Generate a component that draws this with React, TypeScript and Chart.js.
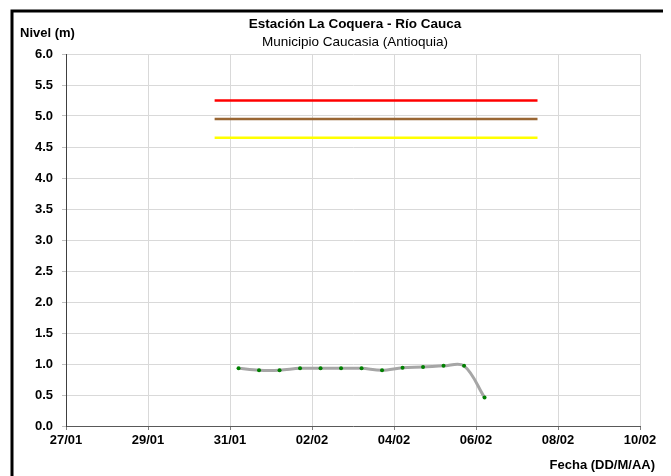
import React, { useEffect, useRef } from "react";
import { Chart, registerables } from "chart.js";

Chart.register(...registerables);

// ---- Data ----
const fechas = [
  "31/01 05:00", "31/01 17:00", "01/02 05:00", "01/02 17:00", "02/02 05:00",
  "02/02 17:00", "03/02 05:00", "03/02 17:00", "04/02 05:00", "04/02 17:00",
  "05/02 05:00", "05/02 17:00", "06/02 05:00",
];
const niveles = [0.93, 0.9, 0.9, 0.93, 0.93, 0.93, 0.93, 0.9, 0.94, 0.95, 0.97, 0.97, 0.46];

const umbralFechas = ["30/01 15:00", "07/02 12:00"];
const umbralRojo = [5.25, 5.25];
const umbralNaranja = [4.95, 4.95];
const umbralAmarillo = [4.65, 4.65];

const xTickLabels = ["27/01", "29/01", "31/01", "02/02", "04/02", "06/02", "08/02", "10/02"];
const fechaInicio = "27/01 00:00";
const fechaFin = "10/02 00:00";

const titulo = "Estación La Coquera - Río Cauca";
const subtitulo = "Municipio Caucasia (Antioquia)";
const tituloY = "Nivel (m)";
const tituloX = "Fecha (DD/M/AA)";

const FONT = "'Liberation Sans', Arial, sans-serif";

function toDays(s: string): number {
  const [d, t] = s.split(" ");
  const [dd, mm] = d.split("/").map(Number);
  const [hh, mi] = t.split(":").map(Number);
  return Date.UTC(2020, mm - 1, dd, hh, mi) / 86400000;
}
const base = toDays(fechaInicio);
const xOf = (s: string) => toDays(s) - base;

const decorPlugin = {
  id: "decor",
  afterDraw(chart: any) {
    const { ctx, chartArea } = chart;
    const L = chartArea.left;
    const T = chartArea.top;
    const R = chartArea.right;
    const B = chartArea.bottom;
    ctx.save();
    // outer frame
    ctx.strokeStyle = "#000000";
    ctx.lineWidth = 3;
    ctx.strokeRect(L - 54, T - 43, R - L + 79, 520);
    // titles
    ctx.fillStyle = "#000000";
    ctx.textAlign = "center";
    ctx.textBaseline = "alphabetic";
    ctx.font = `bold 13.5px ${FONT}`;
    const cx = L + 289;
    ctx.fillText(titulo, cx, T - 26);
    ctx.font = `13.5px ${FONT}`;
    ctx.fillText(subtitulo, cx, T - 8);
    // axis titles
    ctx.font = `bold 13px ${FONT}`;
    ctx.textAlign = "left";
    ctx.fillText(tituloY, L - 46, T - 17);
    ctx.textAlign = "right";
    ctx.fillText(tituloX, R + 15, B + 43);
    ctx.restore();
  },
};

export default function App() {
  const ref = useRef<HTMLCanvasElement | null>(null);

  useEffect(() => {
    if (!ref.current) return;
    const lineData = (vals: number[], xs: string[]) =>
      vals.map((v, i) => ({ x: xOf(xs[i]), y: v }));

    const chart = new Chart(ref.current, {
      type: "line",
      data: {
        datasets: [
          {
            label: "Rojo",
            data: lineData(umbralRojo, umbralFechas),
            borderColor: "#ff0000",
            borderWidth: 2.5,
            pointRadius: 0,
          },
          {
            label: "Naranja",
            data: lineData(umbralNaranja, umbralFechas),
            borderColor: "#996633",
            borderWidth: 2.5,
            pointRadius: 0,
          },
          {
            label: "Amarillo",
            data: lineData(umbralAmarillo, umbralFechas),
            borderColor: "#ffff00",
            borderWidth: 2.5,
            pointRadius: 0,
          },
          {
            label: "Nivel",
            data: lineData(niveles, fechas),
            borderColor: "#a6a6a6",
            borderWidth: 3,
            tension: 0.35,
            pointRadius: 2,
            pointBorderWidth: 0,
            pointBackgroundColor: "#008000",
            pointBorderColor: "#008000",
          },
        ],
      },
      options: {
        responsive: false,
        animation: false,
        events: [],
        layout: { padding: { left: 0, top: 46, right: 31, bottom: 0 } },
        plugins: {
          legend: { display: false },
          title: { display: false },
          tooltip: { enabled: false },
        },
        scales: {
          x: {
            type: "linear",
            min: xOf(fechaInicio),
            max: xOf(fechaFin),
            afterFit: (s: any) => {
              s.height = 50;
            },
            ticks: {
              stepSize: 2,
              padding: 3,
              maxRotation: 0,
              autoSkip: false,
              color: "#000000",
              font: { family: FONT, size: 13, weight: "bold" },
              callback: (v: any) => xTickLabels[Math.round(Number(v) / 2)] ?? "",
            },
            grid: {
              color: "#d9d9d9",
              tickColor: "#808080",
              tickLength: 4,
              lineWidth: 1,
            },
            border: { color: "#595959", width: 1 },
          },
          y: {
            type: "linear",
            min: 0,
            max: 6,
            afterFit: (s: any) => {
              s.width = 58;
            },
            ticks: {
              stepSize: 0.5,
              padding: 9,
              color: "#000000",
              font: { family: FONT, size: 13, weight: "bold" },
              callback: (v: any) => Number(v).toFixed(1),
            },
            grid: {
              color: "#d9d9d9",
              tickColor: "#bfbfbf",
              tickLength: 4,
              lineWidth: 1,
            },
            border: { color: "#404040", width: 1 },
          },
        },
      },
      plugins: [decorPlugin],
    });
    return () => chart.destroy();
  }, []);

  return (
    <div style={{ width: 663, height: 468 }}>
      <canvas ref={ref} width={663} height={468} style={{ display: "block" }} />
    </div>
  );
}
